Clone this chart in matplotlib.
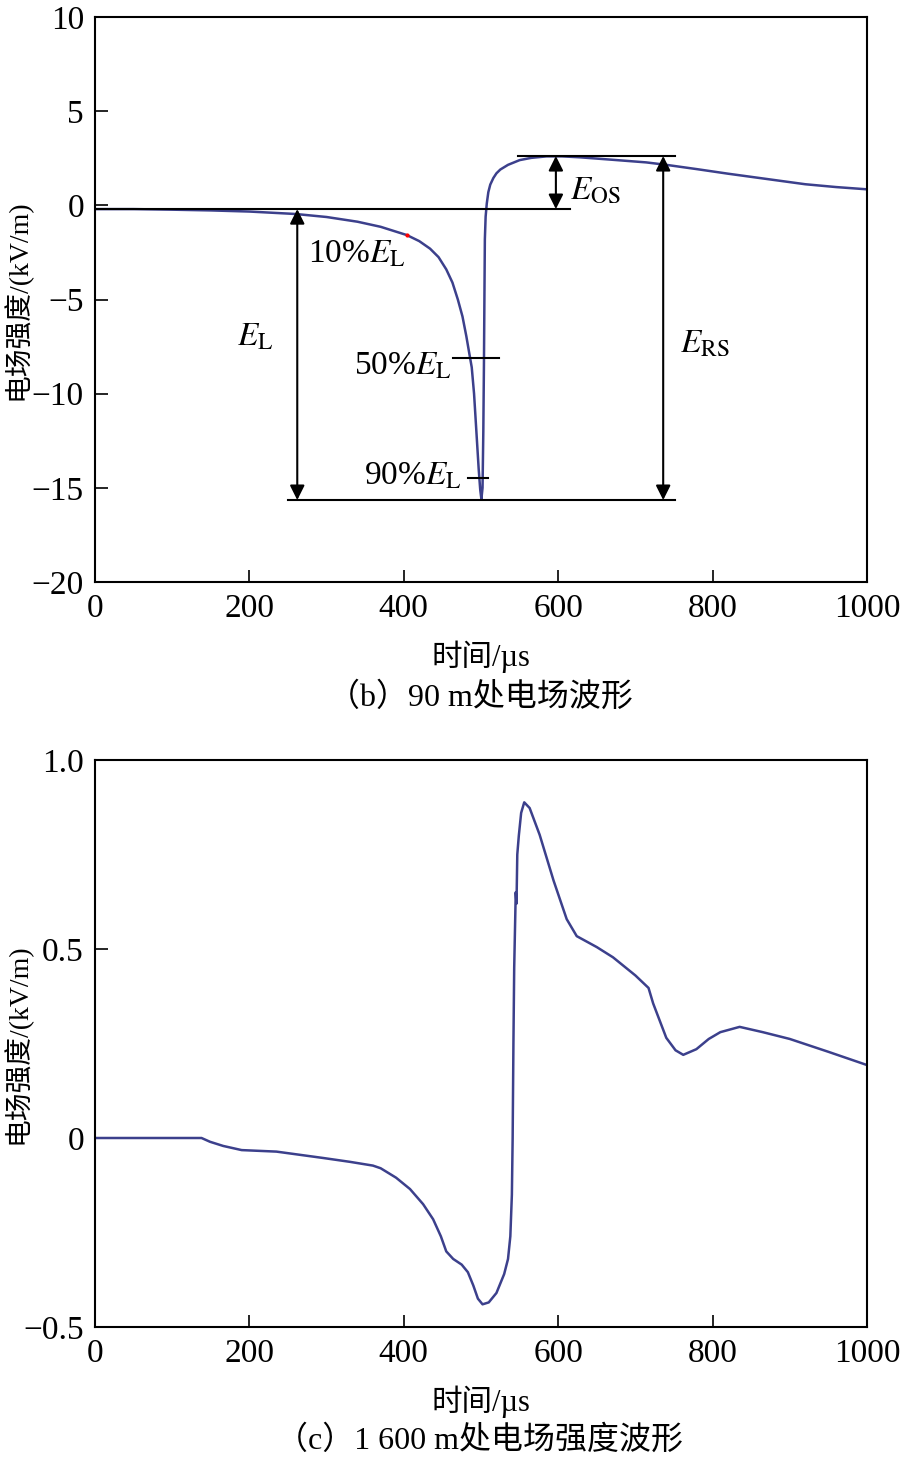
import numpy as np
import matplotlib
matplotlib.use('Agg')
import matplotlib.pyplot as plt

plt.rcParams['font.family'] = ['Liberation Serif', 'Noto Sans CJK SC']
plt.rcParams['mathtext.fontset'] = 'stix'
plt.rcParams['font.size'] = 23
#
# (b) 90 m waveform
t_b = [0, 50, 100, 150, 200, 260, 300, 340, 370, 404, 420, 434, 445, 455,
       463, 470, 476, 481, 485, 488, 491, 494, 497, 499, 500.5, 502, 503,
       503.8, 504.5, 505, 506, 507.5, 509.5, 512, 516, 520, 525, 535, 550,
       565, 585, 605, 628, 670, 714, 740, 780, 820, 870, 920, 960, 1000]
e_b = [-0.20, -0.20, -0.23, -0.27, -0.33, -0.46, -0.62, -0.87, -1.14, -1.58,
       -1.90, -2.30, -2.75, -3.40, -4.10, -5.00, -5.90, -6.95, -7.90, -8.60,
       -10.0, -12.0, -14.0, -15.1, -15.6, -15.0, -12.0, -8.5, -4.5, -1.8,
       -0.6, 0.1, 0.7, 1.1, 1.45, 1.70, 1.90, 2.15, 2.40, 2.52, 2.60, 2.60,
       2.55, 2.42, 2.28, 2.15, 1.92, 1.68, 1.40, 1.12, 0.97, 0.85]
#
# (c) 1 600 m waveform
t_c = [0, 60, 100, 138, 149, 166, 190, 235, 296, 330, 360, 370, 390, 408,
       425, 438, 448, 455, 464, 475, 483, 490, 496, 502, 510, 520, 530, 535,
       538, 540, 541, 542, 543, 544, 545, 546, 547, 549, 552, 556, 563, 576,
       594, 611, 624, 650, 671, 700, 717, 723, 740, 752, 762, 779, 795, 810,
       835, 865, 900, 950, 1000]
e_c = [0.0, 0.0, 0.0, 0.0, -0.01, -0.021, -0.032, -0.036, -0.053, -0.063,
       -0.073, -0.08, -0.105, -0.135, -0.175, -0.215, -0.26, -0.30, -0.32,
       -0.335, -0.355, -0.39, -0.425, -0.44, -0.435, -0.41, -0.36, -0.32,
       -0.26, -0.15, 0.0, 0.25, 0.45, 0.55, 0.65, 0.62, 0.75, 0.80, 0.86,
       0.888, 0.873, 0.802, 0.681, 0.579, 0.534, 0.505, 0.478, 0.43, 0.397,
       0.356, 0.265, 0.232, 0.220, 0.235, 0.262, 0.280, 0.294, 0.280, 0.262,
       0.228, 0.193]
#
line_col = '#3c408c'
W, H = 903, 1465

fig = plt.figure(figsize=(W/100, H/100), dpi=100)
ax1 = fig.add_axes([95/W, (H-582)/H, 772/W, 565/H])
ax2 = fig.add_axes([95/W, (H-1327)/H, 772/W, 567/H])

for ax in (ax1, ax2):
    for s in ax.spines.values():
        s.set_linewidth(1.5)
    ax.tick_params(direction='in', length=9, width=1.2, pad=8,
                   top=False, right=False, labelsize=24)
    ax.set_xlim(0, 1000)
    ax.set_xticks([0, 200, 400, 600, 800, 1000])
    ax.set_xlabel('时间/µs', fontsize=22, labelpad=12)
    ax.set_ylabel('电场强度/(kV/m)', fontsize=20)
    ax.yaxis.set_label_coords(-0.082, 0.5)

# ---- (b)
ax1.plot(t_b, e_b, color=line_col, lw=1.8)
ax1.plot([404], [-1.58], 'o', color='red', ms=2)
ax1.set_ylim(-20, 10)
ax1.set_yticks([-20, -15, -10, -5, 0, 5, 10])

E0, Emin, Etop = -0.2, -15.65, 2.62
ax1.plot([0, 615], [E0, E0], 'k', lw=1.5)
ax1.plot([250, 751], [Emin, Emin], 'k', lw=1.5)
ax1.plot([548, 751], [Etop, Etop], 'k', lw=1.5)
ax1.plot([464, 523], [-8.08, -8.08], 'k', lw=1.5)
ax1.plot([483, 509], [-14.47, -14.47], 'k', lw=1.5)
arr = dict(arrowstyle='<|-|>', color='k', lw=1.5,
           mutation_scale=22, shrinkA=0, shrinkB=0)
ax1.annotate('', xy=(262, E0), xytext=(262, Emin), arrowprops=arr)
ax1.annotate('', xy=(597, Etop), xytext=(597, E0), arrowprops=arr)
ax1.annotate('', xy=(736, Etop), xytext=(736, Emin), arrowprops=arr)

ax1.text(207, -7.0, r'$E_{\mathrm{L}}$', ha='center', va='center', fontsize=24)
ax1.text(276, -2.6, r'10%$E_{\mathrm{L}}$', ha='left', va='center', fontsize=24)
ax1.text(462, -8.55, r'50%$E_{\mathrm{L}}$', ha='right', va='center', fontsize=24)
ax1.text(475, -14.4, r'90%$E_{\mathrm{L}}$', ha='right', va='center', fontsize=24)
ax1.text(615, 0.76, r'$E_{\mathrm{OS}}$', ha='left', va='center', fontsize=24)
ax1.text(758, -7.4, r'$E_{\mathrm{RS}}$', ha='left', va='center', fontsize=24)

# ---- (c)
ax2.plot(t_c, e_c, color=line_col, lw=1.8)
ax2.set_ylim(-0.5, 1.0)
ax2.set_yticks([-0.5, 0, 0.5, 1.0])
ax2.set_yticklabels(['\u22120.5', '0', '0.5', '1.0'])

fig.text(480/W, 1 - 697/H, '（b）90 m处电场波形', ha='center', va='center', fontsize=23)
fig.text(480/W, 1 - 1440/H, '（c）1 600 m处电场强度波形', ha='center', va='center', fontsize=23)

fig.savefig('out.png', dpi=100)
